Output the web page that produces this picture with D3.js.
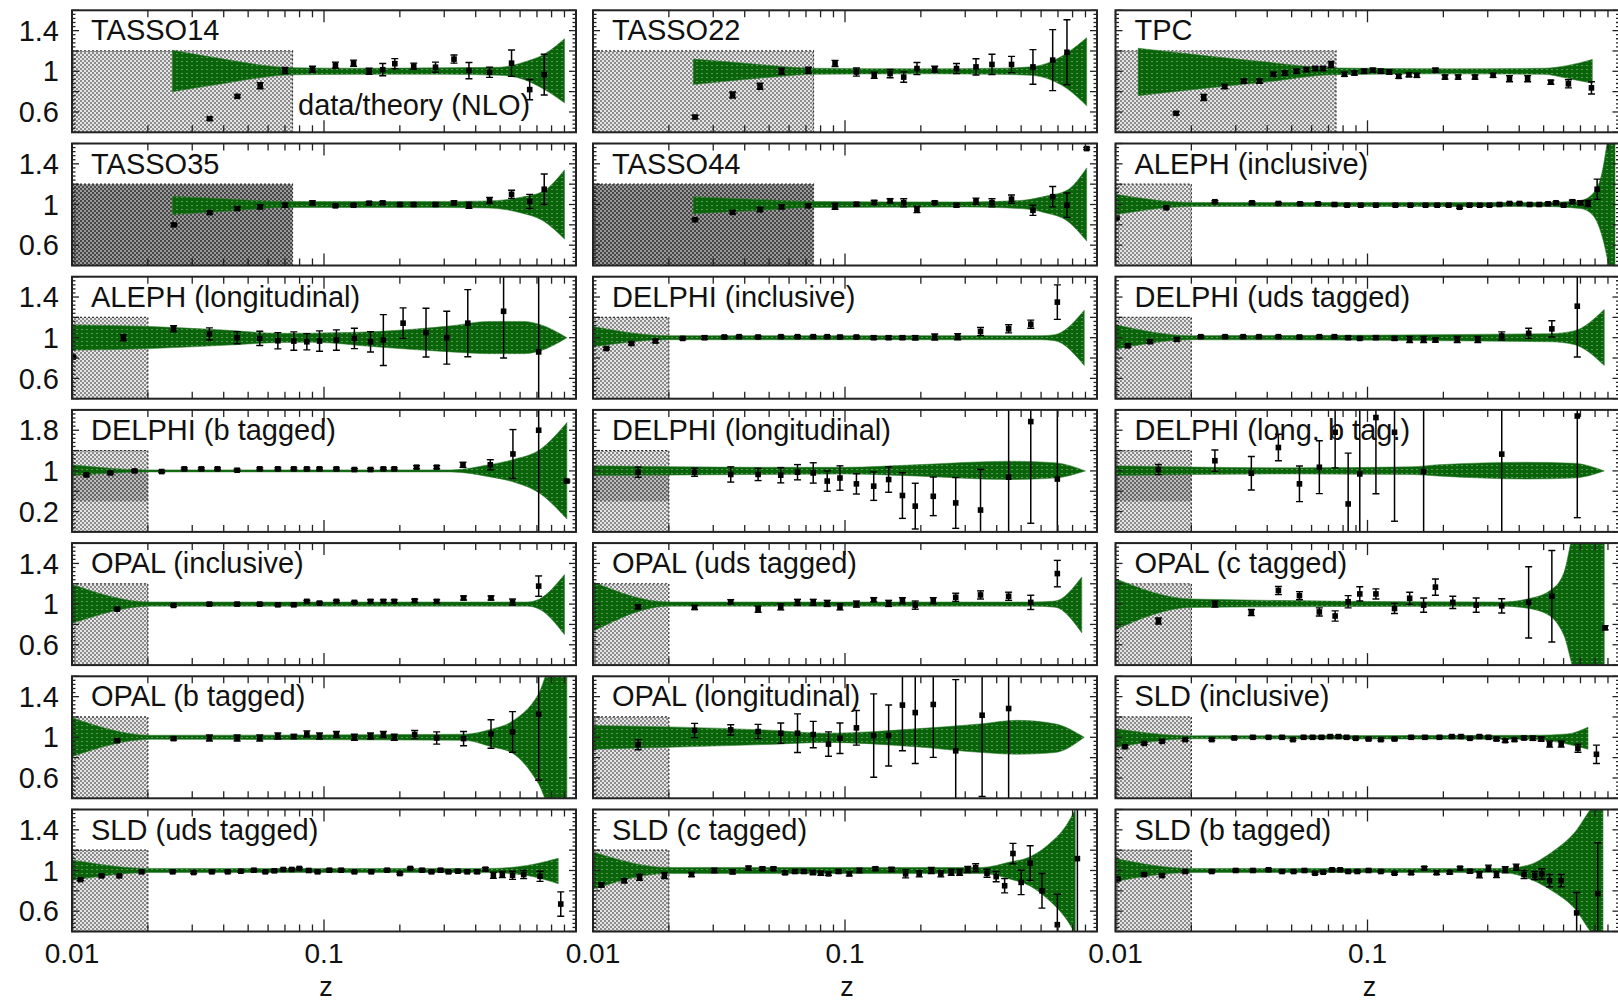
<!DOCTYPE html>
<html>
<head>
<meta charset="utf-8">
<script src="https://cdn.jsdelivr.net/npm/d3@7"></script>
<style>
  body { margin: 0; background: #fff; }
  svg { display: block; }
  text { font-family: "Liberation Sans", Arial, Helvetica, sans-serif; fill: #111; }
</style>
</head>
<body>
<svg id="chart" width="1618" height="1003"></svg>
<script>
// panel titles, row by row (3 per row)
const panelNames = [
  "TASSO14", "TASSO22", "TPC",
  "TASSO35", "TASSO44", "ALEPH (inclusive)",
  "ALEPH (longitudinal)", "DELPHI (inclusive)", "DELPHI (uds tagged)",
  "DELPHI (b tagged)", "DELPHI (longitudinal)", "DELPHI (long. b tag.)",
  "OPAL (inclusive)", "OPAL (uds tagged)", "OPAL (c tagged)",
  "OPAL (b tagged)", "OPAL (longitudinal)", "SLD (inclusive)",
  "SLD (uds tagged)", "SLD (c tagged)", "SLD (b tagged)"
];

// z below which data are excluded from the fit (grey box)
const cutZ = [0.075, 0.075, 0.075, 0.075, 0.075, 0.02, 0.02, 0.02, 0.02, 0.02, 0.02,
  0.02, 0.02, 0.02, 0.02, 0.02, 0.02, 0.02, 0.02, 0.02, 0.02];
const shadeTop = [1.2, 1.2, 1.2, 1.4, 1.2, 1.2, 1.2];   // per row
const yDomainNormal = [0.4, 1.6];
const yDomainWide = [-0.2, 2.2];
const yLabelsNormal = [0.6, 1, 1.4];
const yLabelsWide = [0.2, 1, 1.8];
const xLabels = [0.01, 0.1];

// data points: [z, data/theory, error]
const tasso14Points = [[0.0352,0.534,0.015],[0.0453,0.754,0.015],[0.0558,0.859,0.03],[0.070,1.007,0.03],[0.090,1.02,0.03],[0.111,1.06,0.03],[0.131,1.08,0.03],[0.151,1.0,0.03],[0.171,1.016,0.06],[0.191,1.075,0.05],[0.227,1.05,0.03],[0.277,1.04,0.05],[0.328,1.12,0.04],[0.376,1.007,0.08],[0.454,0.99,0.05],[0.555,1.08,0.13],[0.655,0.82,0.1],[0.748,0.967,0.2]];
const tasso22Points = [[0.0254,0.55,0.015],[0.0358,0.767,0.03],[0.046,0.853,0.03],[0.056,1.0,0.03],[0.0715,1.01,0.03],[0.0913,1.077,0.03],[0.111,0.993,0.04],[0.1306,0.96,0.03],[0.151,0.977,0.04],[0.171,0.943,0.05],[0.193,1.027,0.06],[0.227,1.02,0.03],[0.277,1.027,0.05],[0.331,1.043,0.08],[0.383,1.067,0.1],[0.458,1.067,0.08],[0.557,1.043,0.17],[0.667,1.11,0.3],[0.76,1.187,0.32]];
const tpcPoints = [[0.0174,0.587,0.015],[0.0224,0.743,0.03],[0.0271,0.85,0.02],[0.0323,0.903,0.02],[0.0373,0.903,0.02],[0.0423,0.97,0.02],[0.047,0.983,0.02],[0.0523,1.0,0.02],[0.0572,1.017,0.02],[0.062,1.027,0.02],[0.0666,1.027,0.02],[0.0717,1.067,0.03],[0.081,0.97,0.02],[0.0887,0.983,0.02],[0.097,1.0,0.02],[0.105,1.01,0.02],[0.113,1.0,0.02],[0.122,0.993,0.02],[0.133,0.95,0.02],[0.146,0.967,0.02],[0.157,0.96,0.02],[0.186,1.01,0.02],[0.203,0.943,0.02],[0.229,0.943,0.02],[0.267,0.943,0.02],[0.315,0.96,0.02],[0.366,0.927,0.03],[0.432,0.927,0.03],[0.534,0.893,0.02],[0.627,0.877,0.04],[0.774,0.837,0.06]];
const tasso35Points = [[0.0254,0.80,0.01],[0.0352,0.92,0.015],[0.0453,0.96,0.015],[0.0558,0.977,0.02],[0.070,0.993,0.02],[0.090,1.016,0.02],[0.111,0.987,0.01],[0.131,0.993,0.01],[0.151,1.013,0.015],[0.171,1.016,0.015],[0.20,1.0,0.015],[0.227,1.0,0.015],[0.277,1.0,0.015],[0.328,1.016,0.02],[0.376,0.993,0.03],[0.454,1.04,0.03],[0.555,1.1,0.04],[0.655,1.03,0.07],[0.748,1.15,0.15]];
const tasso44Points = [[0.0254,0.85,0.01],[0.0358,0.923,0.015],[0.046,0.95,0.02],[0.056,0.977,0.02],[0.0715,0.987,0.015],[0.0913,0.983,0.03],[0.111,1.003,0.015],[0.1306,1.02,0.02],[0.151,1.037,0.02],[0.171,1.017,0.04],[0.193,0.95,0.03],[0.227,1.017,0.015],[0.277,0.993,0.015],[0.331,1.033,0.03],[0.383,1.017,0.04],[0.458,1.053,0.04],[0.557,0.943,0.05],[0.667,1.077,0.1],[0.76,0.993,0.12],[0.91,1.55,0.01]];
const alephInclPoints = [[0.0101,0.867,0.01],[0.0159,0.967,0.01],[0.0248,1.027,0.01],[0.0348,1.017,0.01],[0.0443,1.01,0.01],[0.054,1.007,0.01],[0.0636,1.007,0.01],[0.074,1.0,0.01],[0.083,0.993,0.01],[0.094,0.993,0.01],[0.108,0.993,0.01],[0.129,0.993,0.01],[0.148,0.993,0.01],[0.17,0.993,0.01],[0.189,0.993,0.01],[0.21,0.993,0.01],[0.232,0.973,0.01],[0.254,0.993,0.01],[0.279,0.993,0.01],[0.305,0.993,0.01],[0.334,1.0,0.01],[0.366,1.01,0.01],[0.401,1.01,0.01],[0.44,1.0,0.01],[0.48,1.0,0.01],[0.52,1.007,0.01],[0.56,1.017,0.01],[0.6,0.993,0.01],[0.65,1.027,0.015],[0.70,1.017,0.02],[0.75,1.01,0.03],[0.815,1.15,0.1]];
const alephLongPoints = [[0.0101,0.81,0.01],[0.016,1.0,0.03],[0.0253,1.087,0.03],[0.0351,1.037,0.06],[0.0452,1.0,0.06],[0.0556,0.993,0.07],[0.0656,0.97,0.08],[0.0759,0.967,0.09],[0.0855,0.96,0.08],[0.096,0.967,0.1],[0.112,0.977,0.1],[0.132,0.993,0.1],[0.153,0.96,0.1],[0.172,0.977,0.25],[0.206,1.143,0.15],[0.254,1.05,0.24],[0.307,1.0,0.26],[0.372,1.143,0.33],[0.516,1.26,0.46],[0.711,0.86,1.2]];
const delphiInclPoints = [[0.0113,0.893,0.01],[0.0142,0.943,0.015],[0.0177,0.967,0.015],[0.0227,0.993,0.01],[0.0277,1.0,0.015],[0.0332,1.007,0.01],[0.038,1.01,0.01],[0.0452,1.007,0.01],[0.0557,1.01,0.01],[0.0648,1.01,0.01],[0.0748,1.01,0.01],[0.085,1.01,0.01],[0.0955,1.007,0.01],[0.111,1.007,0.01],[0.13,1.0,0.015],[0.149,1.0,0.015],[0.169,1.0,0.015],[0.19,1.0,0.02],[0.227,1.007,0.03],[0.28,1.01,0.03],[0.345,1.06,0.04],[0.446,1.087,0.04],[0.546,1.133,0.04],[0.696,1.35,0.17]];
const delphiUdsPoints = [[0.0112,0.92,0.015],[0.0137,0.96,0.015],[0.0175,0.983,0.015],[0.0218,1.01,0.01],[0.0272,1.01,0.01],[0.0321,1.01,0.01],[0.0371,1.01,0.01],[0.0443,1.01,0.01],[0.0537,1.007,0.01],[0.0644,1.01,0.01],[0.0739,1.01,0.01],[0.0838,1.0,0.015],[0.0932,0.993,0.01],[0.108,1.0,0.015],[0.128,0.993,0.015],[0.147,0.983,0.03],[0.167,0.983,0.03],[0.186,0.977,0.02],[0.227,0.983,0.03],[0.274,0.983,0.03],[0.341,1.017,0.04],[0.436,1.043,0.05],[0.539,1.087,0.08],[0.68,1.31,0.5]];
const delphiBPoints = [[0.0114,0.92,0.02],[0.0142,0.96,0.02],[0.0177,1.0,0.02],[0.0227,0.987,0.02],[0.0279,1.04,0.02],[0.0326,1.04,0.02],[0.0378,1.04,0.02],[0.0452,1.013,0.02],[0.0556,1.04,0.02],[0.0656,1.04,0.02],[0.0759,1.04,0.02],[0.0855,1.04,0.02],[0.096,1.04,0.02],[0.112,1.04,0.02],[0.132,1.027,0.02],[0.153,1.027,0.02],[0.172,1.04,0.02],[0.19,1.04,0.02],[0.233,1.073,0.03],[0.28,1.073,0.03],[0.356,1.12,0.05],[0.457,1.12,0.1],[0.562,1.333,0.48],[0.711,1.8,2.0],[0.92,0.8,0.02]];
const delphiLongPoints = [[0.0151,0.974,0.1],[0.0253,0.974,0.08],[0.0352,0.93,0.15],[0.0452,0.93,0.12],[0.0556,0.915,0.15],[0.0648,0.974,0.15],[0.0748,0.96,0.2],[0.085,0.8,0.2],[0.0955,0.86,0.24],[0.111,0.745,0.2],[0.13,0.7,0.28],[0.149,0.83,0.25],[0.169,0.516,0.45],[0.19,0.307,0.45],[0.224,0.5,0.38],[0.275,0.37,0.5],[0.345,0.23,0.8],[0.446,0.876,2.0],[0.546,1.97,2.0],[0.696,0.84,2.0]];
const delphiLongBPoints = [[0.0148,1.026,0.1],[0.0248,1.2,0.21],[0.0346,0.954,0.33],[0.0443,1.46,0.26],[0.0537,0.745,0.35],[0.0644,1.072,0.52],[0.0744,1.76,0.7],[0.0838,0.35,1.0],[0.0932,0.94,1.5],[0.108,2.05,1.5],[0.128,1.76,1.75],[0.167,0.987,2.0],[0.341,1.33,2.0],[0.68,2.08,2.0]];
const opalInclPoints = [[0.0151,0.95,0.01],[0.0253,0.987,0.01],[0.0351,1.0,0.01],[0.0452,1.0,0.01],[0.0556,1.0,0.01],[0.0656,0.993,0.01],[0.0759,0.993,0.01],[0.0855,1.027,0.01],[0.096,1.01,0.01],[0.112,1.027,0.01],[0.132,1.017,0.01],[0.153,1.027,0.015],[0.172,1.027,0.015],[0.19,1.027,0.015],[0.229,1.033,0.015],[0.28,1.027,0.015],[0.358,1.06,0.02],[0.46,1.06,0.02],[0.56,1.02,0.03],[0.711,1.177,0.1]];
const opalUdsPoints = [[0.0151,0.973,0.02],[0.0253,0.967,0.02],[0.0352,1.023,0.02],[0.0452,0.95,0.03],[0.0556,0.973,0.03],[0.0648,1.017,0.03],[0.0748,1.017,0.03],[0.085,1.007,0.03],[0.0955,0.973,0.03],[0.111,1.0,0.03],[0.13,1.043,0.02],[0.149,1.007,0.03],[0.169,1.033,0.03],[0.19,0.99,0.04],[0.224,1.033,0.03],[0.275,1.067,0.04],[0.345,1.09,0.04],[0.446,1.077,0.04],[0.546,1.017,0.07],[0.696,1.3,0.13]];
const opalCPoints = [[0.0148,0.833,0.03],[0.0248,1.0,0.03],[0.0346,0.917,0.03],[0.0443,1.133,0.04],[0.0537,1.083,0.04],[0.0644,0.923,0.04],[0.0744,0.883,0.05],[0.0838,1.023,0.06],[0.0932,1.1,0.07],[0.108,1.1,0.05],[0.128,0.957,0.05],[0.147,1.057,0.06],[0.167,0.99,0.07],[0.186,1.167,0.08],[0.218,1.017,0.06],[0.27,0.99,0.07],[0.341,0.983,0.07],[0.436,1.017,0.35],[0.539,1.077,0.45],[0.877,0.767,0.02]];
const opalBPoints = [[0.0151,0.967,0.01],[0.0253,0.987,0.015],[0.0351,0.993,0.03],[0.0452,0.993,0.03],[0.0556,0.993,0.03],[0.0656,1.013,0.03],[0.0759,1.007,0.02],[0.0855,1.033,0.03],[0.096,1.013,0.03],[0.112,1.027,0.03],[0.132,1.0,0.03],[0.153,1.013,0.03],[0.172,1.027,0.03],[0.19,1.0,0.03],[0.229,1.027,0.04],[0.28,0.993,0.06],[0.358,0.987,0.07],[0.46,1.033,0.14],[0.56,1.053,0.2],[0.711,1.227,0.65]];
const opalLongPoints = [[0.0151,0.927,0.05],[0.0253,1.067,0.07],[0.0352,1.073,0.05],[0.0452,1.057,0.07],[0.0556,1.04,0.1],[0.0648,1.04,0.19],[0.0748,1.027,0.13],[0.086,0.933,0.12],[0.0955,0.99,0.15],[0.111,1.093,0.17],[0.13,1.017,0.41],[0.149,1.017,0.3],[0.169,1.317,0.45],[0.19,1.243,0.5],[0.224,1.323,0.52],[0.275,0.867,0.7],[0.35,1.217,0.8],[0.446,1.283,0.9]];
const sldInclPoints = [[0.0109,0.907,0.01],[0.013,0.94,0.01],[0.0153,0.96,0.01],[0.0189,0.977,0.01],[0.0241,0.977,0.01],[0.0296,0.993,0.01],[0.0351,1.0,0.01],[0.0405,1.0,0.01],[0.0458,1.0,0.01],[0.0506,0.977,0.01],[0.0558,1.0,0.01],[0.0606,1.0,0.01],[0.0657,1.0,0.01],[0.0711,1.007,0.01],[0.0767,1.007,0.01],[0.0826,1.0,0.01],[0.0898,0.99,0.01],[0.101,0.983,0.01],[0.113,0.977,0.01],[0.128,0.983,0.01],[0.149,1.0,0.01],[0.169,1.0,0.01],[0.193,1.0,0.01],[0.216,1.007,0.01],[0.235,1.007,0.01],[0.255,0.99,0.01],[0.278,1.007,0.01],[0.302,1.0,0.01],[0.325,0.983,0.015],[0.352,0.967,0.015],[0.383,0.977,0.015],[0.418,0.993,0.015],[0.453,0.99,0.02],[0.489,0.983,0.02],[0.528,0.933,0.03],[0.587,0.933,0.03],[0.684,0.893,0.04],[0.81,0.833,0.09]];
const sldUdsPoints = [[0.0108,0.91,0.01],[0.0131,0.947,0.01],[0.0154,0.947,0.01],[0.0189,0.987,0.01],[0.0251,0.987,0.01],[0.0304,0.98,0.01],[0.0359,0.987,0.01],[0.0415,0.987,0.01],[0.0468,0.993,0.01],[0.0527,1.003,0.01],[0.0585,0.987,0.01],[0.0635,0.997,0.01],[0.0689,1.01,0.01],[0.0745,1.01,0.01],[0.0798,1.02,0.01],[0.087,1.0,0.01],[0.0943,0.987,0.01],[0.105,1.003,0.01],[0.117,1.003,0.01],[0.132,0.987,0.01],[0.154,0.987,0.01],[0.178,1.003,0.01],[0.2,0.97,0.01],[0.22,1.02,0.01],[0.245,1.003,0.01],[0.267,0.987,0.01],[0.29,1.003,0.01],[0.312,0.987,0.01],[0.34,0.993,0.01],[0.37,0.987,0.01],[0.405,0.987,0.015],[0.437,1.013,0.015],[0.47,0.953,0.03],[0.51,0.96,0.03],[0.56,0.953,0.04],[0.62,0.96,0.04],[0.72,0.943,0.05],[0.87,0.67,0.12]];
const sldCPoints = [[0.0108,0.857,0.02],[0.0133,0.9,0.02],[0.0153,0.933,0.03],[0.0192,0.95,0.03],[0.0246,0.96,0.02],[0.0303,1.0,0.02],[0.0358,0.987,0.02],[0.0414,1.023,0.02],[0.047,1.017,0.015],[0.052,1.017,0.015],[0.0578,0.977,0.015],[0.0633,0.99,0.015],[0.0687,0.99,0.015],[0.0746,0.98,0.02],[0.0802,0.973,0.02],[0.086,0.967,0.015],[0.0943,0.99,0.015],[0.104,0.967,0.02],[0.114,1.0,0.02],[0.132,1.017,0.015],[0.153,1.01,0.02],[0.174,0.967,0.04],[0.197,0.967,0.03],[0.22,1.0,0.03],[0.24,0.967,0.03],[0.264,0.983,0.03],[0.285,0.983,0.03],[0.307,1.01,0.03],[0.33,1.027,0.04],[0.366,0.973,0.04],[0.398,0.94,0.05],[0.43,0.85,0.07],[0.464,1.167,0.1],[0.5,0.883,0.12],[0.543,1.073,0.17],[0.605,0.8,0.17],[0.696,0.467,0.3],[0.836,1.117,0.8]];
const sldBPoints = [[0.0102,0.917,0.01],[0.013,0.96,0.01],[0.0153,0.95,0.01],[0.0189,0.99,0.01],[0.0241,0.99,0.01],[0.03,1.0,0.01],[0.0351,1.0,0.01],[0.0405,1.007,0.01],[0.0458,0.99,0.01],[0.0509,0.99,0.01],[0.0562,1.0,0.01],[0.0619,0.973,0.01],[0.0667,0.983,0.01],[0.0723,1.007,0.01],[0.0779,1.007,0.01],[0.0838,0.99,0.01],[0.0911,0.99,0.01],[0.101,1.0,0.01],[0.113,0.99,0.01],[0.128,0.973,0.01],[0.149,0.977,0.015],[0.168,1.023,0.015],[0.188,0.977,0.015],[0.212,0.983,0.015],[0.233,1.023,0.015],[0.255,0.993,0.015],[0.278,0.957,0.03],[0.302,1.023,0.03],[0.325,0.96,0.03],[0.352,1.007,0.03],[0.389,1.033,0.03],[0.418,0.96,0.04],[0.461,0.95,0.04],[0.492,0.967,0.05],[0.528,0.9,0.06],[0.587,0.9,0.06],[0.676,0.583,0.2],[0.82,0.773,0.5]];

// theory uncertainty bands: [z, lower, upper]
const tasso14Band = [[0.025,0.80,1.207],[0.04,0.88,1.12],[0.055,0.935,1.065],[0.075,0.965,1.035],[0.15,0.97,1.03],[0.3,0.97,1.035],[0.5,0.96,1.04],[0.62,0.92,1.09],[0.75,0.82,1.17],[0.9,0.69,1.32]];
const tasso22Band = [[0.025,0.87,1.12],[0.04,0.92,1.08],[0.055,0.95,1.05],[0.075,0.97,1.03],[0.2,0.975,1.025],[0.4,0.97,1.03],[0.55,0.96,1.045],[0.65,0.92,1.09],[0.76,0.83,1.18],[0.91,0.66,1.33]];
const tpcBand = [[0.0123,0.76,1.227],[0.0215,0.827,1.16],[0.039,0.893,1.093],[0.074,0.967,1.033],[0.2,0.975,1.025],[0.5,0.97,1.03],[0.63,0.927,1.06],[0.78,0.883,1.117]];
const tasso35Band = [[0.025,0.90,1.08],[0.045,0.94,1.05],[0.07,0.97,1.03],[0.3,0.97,1.03],[0.45,0.965,1.035],[0.6,0.92,1.07],[0.74,0.84,1.13],[0.9,0.66,1.34]];
const tasso44Band = [[0.025,0.91,1.077],[0.045,0.94,1.05],[0.075,0.97,1.03],[0.3,0.975,1.025],[0.5,0.96,1.04],[0.62,0.92,1.08],[0.76,0.84,1.14],[0.91,0.64,1.36]];
const alephInclBand = [[0.01,0.9,1.1],[0.0202,0.98,1.02],[0.5,0.98,1.02],[0.7,0.96,1.04],[0.78,0.9,1.1],[0.85,0.7,1.3],[0.92,0.3,1.8],[0.96,0.0,2.0]];
const alephLongBand = [[0.01,0.877,1.127],[0.0205,0.893,1.11],[0.04,0.925,1.075],[0.068,0.953,1.043],[0.09,0.955,1.045],[0.16,0.91,1.06],[0.32,0.86,1.117],[0.45,0.843,1.16],[0.62,0.843,1.16],[0.72,0.87,1.13],[0.92,1.0,1.0]];
const delphiInclBand = [[0.01,0.91,1.11],[0.02,0.98,1.02],[0.6,0.98,1.02],[0.68,0.97,1.03],[0.89,0.727,1.27]];
const delphiUdsBand = [[0.01,0.887,1.127],[0.02,0.98,1.02],[0.53,0.96,1.04],[0.66,0.933,1.067],[0.87,0.727,1.277]];
const delphiBBand = [[0.01,0.907,1.12],[0.02,0.98,1.02],[0.32,0.98,1.02],[0.45,0.887,1.12],[0.56,0.787,1.22],[0.72,0.553,1.42],[0.92,0.053,1.95]];
const delphiLongBand = [[0.01,0.91,1.1],[0.05,0.93,1.07],[0.1,0.94,1.07],[0.19,0.9,1.12],[0.45,0.83,1.19],[0.68,0.86,1.16],[0.9,1.0,1.0]];
const delphiLongBBand = [[0.01,0.91,1.1],[0.05,0.94,1.06],[0.15,0.93,1.08],[0.19,0.9,1.12],[0.43,0.84,1.17],[0.66,0.86,1.15],[0.87,1.0,1.0]];
const opalInclBand = [[0.01,0.81,1.193],[0.0205,0.98,1.02],[0.64,0.98,1.02],[0.716,0.95,1.05],[0.9,0.70,1.29]];
const opalUdsBand = [[0.01,0.733,1.217],[0.02,0.98,1.02],[0.55,0.98,1.02],[0.68,0.97,1.03],[0.87,0.717,1.267]];
const opalCBand = [[0.01,0.75,1.25],[0.02,0.967,1.05],[0.34,0.98,1.02],[0.43,0.96,1.05],[0.53,0.883,1.133],[0.6,0.7,1.3],[0.68,0.3,1.8],[0.87,0.3,1.8]];
const opalBBand = [[0.01,0.81,1.193],[0.0205,0.98,1.02],[0.36,0.97,1.03],[0.457,0.91,1.077],[0.56,0.843,1.16],[0.71,0.543,1.427],[0.8,0.3,1.7],[0.92,0.3,1.7]];
const opalLongBand = [[0.01,0.883,1.117],[0.05,0.93,1.07],[0.085,0.95,1.04],[0.19,0.907,1.083],[0.35,0.85,1.133],[0.48,0.833,1.167],[0.68,0.85,1.133],[0.89,1.0,1.0]];
const sldInclBand = [[0.01,0.9,1.083],[0.02,0.985,1.015],[0.46,0.98,1.02],[0.62,0.933,1.033],[0.75,0.883,1.1]];
const sldUdsBand = [[0.01,0.903,1.103],[0.0205,0.98,1.02],[0.45,0.98,1.02],[0.64,0.95,1.05],[0.85,0.87,1.12]];
const sldCBand = [[0.01,0.817,1.183],[0.02,0.97,1.03],[0.35,0.97,1.03],[0.45,0.917,1.083],[0.54,0.85,1.133],[0.65,0.7,1.267],[0.75,0.533,1.433],[0.82,0.38,1.6]];
const sldBBand = [[0.01,0.893,1.117],[0.02,0.98,1.02],[0.34,0.98,1.02],[0.43,0.927,1.05],[0.54,0.8,1.183],[0.66,0.633,1.367],[0.8,0.35,1.65],[0.86,0.3,1.7]];

const pointSets = [tasso14Points, tasso22Points, tpcPoints, tasso35Points, tasso44Points, alephInclPoints,
  alephLongPoints, delphiInclPoints, delphiUdsPoints, delphiBPoints, delphiLongPoints, delphiLongBPoints,
  opalInclPoints, opalUdsPoints, opalCPoints, opalBPoints, opalLongPoints, sldInclPoints,
  sldUdsPoints, sldCPoints, sldBPoints];
const bandSets = [tasso14Band, tasso22Band, tpcBand, tasso35Band, tasso44Band, alephInclBand,
  alephLongBand, delphiInclBand, delphiUdsBand, delphiBBand, delphiLongBand, delphiLongBBand,
  opalInclBand, opalUdsBand, opalCBand, opalBBand, opalLongBand, sldInclBand,
  sldUdsBand, sldCBand, sldBBand];
const darkShade = new Set(["TASSO35", "TASSO44"]);

// layout
const colLeft = [72, 593, 1115.5];
const panelW = 504, panelH = 122;
const rowTop0 = 10.3, rowStep = 133.2;
const wideRow = 3;

const svg = d3.select("#chart");
const defs = svg.append("defs");

// checkered grey for excluded region
function checker(id, light, dark, s) {
  const p = defs.append("pattern").attr("id", id)
    .attr("patternUnits", "userSpaceOnUse").attr("width", 2 * s).attr("height", 2 * s);
  p.append("rect").attr("width", 2 * s).attr("height", 2 * s).attr("fill", light);
  p.append("rect").attr("width", s).attr("height", s).attr("fill", dark);
  p.append("rect").attr("x", s).attr("y", s).attr("width", s).attr("height", s).attr("fill", dark);
}
checker("shadeLight", "#e6e6e6", "#8c8c8c", 2);
checker("shadeDark", "#9a9a9a", "#474747", 2);

// dotted green fill for the band
const bp = defs.append("pattern").attr("id", "bandFill")
  .attr("patternUnits", "userSpaceOnUse").attr("width", 5).attr("height", 4);
bp.append("rect").attr("width", 5).attr("height", 4).attr("fill", "#0a640a");
bp.append("rect").attr("x", 1).attr("y", 1).attr("width", 2).attr("height", 1).attr("fill", "#5c975c");

panelNames.forEach((name, i) => {
  const row = Math.floor(i / 3), col = i % 3;
  const left = colLeft[col], top = rowTop0 + row * rowStep;
  const wide = row === wideRow;

  const x = d3.scaleLog().domain([0.01, 1]).range([left, left + panelW]);
  const y = d3.scaleLinear().domain(wide ? yDomainWide : yDomainNormal).range([top + panelH, top]);

  defs.append("clipPath").attr("id", "clip" + i)
    .append("rect").attr("x", left).attr("y", top).attr("width", panelW).attr("height", panelH);

  const g = svg.append("g");
  const inner = g.append("g").attr("clip-path", `url(#clip${i})`);

  // excluded-region box
  const bx = x(0.01), bw = x(cutZ[i]) - x(0.01);
  inner.append("rect")
    .attr("x", bx).attr("y", y(shadeTop[row])).attr("width", bw)
    .attr("height", top + panelH - y(shadeTop[row]))
    .attr("fill", darkShade.has(name) ? "url(#shadeDark)" : "url(#shadeLight)");
  if (wide) {
    inner.append("rect")
      .attr("x", bx).attr("y", y(1.0)).attr("width", bw).attr("height", y(0.4) - y(1.0))
      .attr("fill", "url(#shadeDark)").attr("opacity", 0.55);
  }
  inner.append("path")
    .attr("d", `M${bx},${y(shadeTop[row])}H${bx + bw}V${top + panelH}`)
    .attr("fill", "none").attr("stroke", "#333").attr("stroke-width", 1.2)
    .attr("stroke-dasharray", "2,2");

  // theory band
  const area = d3.area()
    .x(d => x(d[0]))
    .y0(d => y(d[1]))
    .y1(d => y(d[2]))
    .curve(d3.curveMonotoneX);
  inner.append("path")
    .datum(bandSets[i])
    .attr("d", area)
    .attr("fill", "url(#bandFill)")
    .attr("stroke", "#2f7a2f").attr("stroke-width", 0.8).attr("stroke-opacity", 0.7);

  // data points with error bars
  const pts = inner.selectAll(".pt").data(pointSets[i]).enter().append("g").attr("class", "pt");
  pts.append("line")
    .attr("x1", d => x(d[0])).attr("x2", d => x(d[0]))
    .attr("y1", d => y(d[1] - d[2])).attr("y2", d => y(d[1] + d[2]))
    .attr("stroke", "#000").attr("stroke-width", 1.5);
  pts.append("line")
    .attr("x1", d => x(d[0]) - 3.5).attr("x2", d => x(d[0]) + 3.5)
    .attr("y1", d => y(d[1] + d[2])).attr("y2", d => y(d[1] + d[2]))
    .attr("stroke", "#000").attr("stroke-width", 1.4);
  pts.append("line")
    .attr("x1", d => x(d[0]) - 3.5).attr("x2", d => x(d[0]) + 3.5)
    .attr("y1", d => y(d[1] - d[2])).attr("y2", d => y(d[1] - d[2]))
    .attr("stroke", "#000").attr("stroke-width", 1.4);
  pts.append("rect")
    .attr("x", d => x(d[0]) - 2.8).attr("y", d => y(d[1]) - 2.8)
    .attr("width", 5.6).attr("height", 5.6).attr("fill", "#000");

  // ticks on all four sides, pointing inward
  const ticks = g.append("g").attr("stroke", "#222").attr("stroke-width", 1.3);
  x.ticks().forEach(t => {
    const major = Math.abs(Math.log10(t) - Math.round(Math.log10(t))) < 1e-6;
    const len = major ? 12 : 7;
    const px = x(t);
    ticks.append("line").attr("x1", px).attr("x2", px).attr("y1", top + panelH).attr("y2", top + panelH - len);
    ticks.append("line").attr("x1", px).attr("x2", px).attr("y1", top).attr("y2", top + len);
  });
  const dom = y.domain();
  const minorStep = wide ? 0.08 : 0.04;
  const majorEvery = 5;
  d3.range(0, Math.round((dom[1] - dom[0]) / minorStep) + 1).forEach(k => {
    const v = dom[0] + k * minorStep;
    const len = (k % majorEvery === 0) ? 7 : 3.5;
    const py = y(v);
    ticks.append("line").attr("x1", left).attr("x2", left + len).attr("y1", py).attr("y2", py);
    ticks.append("line").attr("x1", left + panelW).attr("x2", left + panelW - len).attr("y1", py).attr("y2", py);
  });

  // frame
  g.append("rect").attr("x", left).attr("y", top).attr("width", panelW).attr("height", panelH)
    .attr("fill", "none").attr("stroke", "#222").attr("stroke-width", 2);

  // title
  g.append("text").attr("x", left + 19).attr("y", top + 30)
    .attr("font-size", 29).text(name);

  if (i === 0) {
    g.append("text").attr("x", left + 226).attr("y", top + 105)
      .attr("font-size", 29).text("data/theory (NLO)");
  }

  // y tick labels on the left column
  if (col === 0) {
    (wide ? yLabelsWide : yLabelsNormal).forEach(v => {
      g.append("text").attr("x", 59).attr("y", y(v)).attr("dy", "0.35em")
        .attr("text-anchor", "end").attr("font-size", 29).text(d3.format("~g")(v));
    });
  }

  // x tick labels and axis title on the bottom row
  if (row === 6) {
    xLabels.forEach(v => {
      g.append("text").attr("x", x(v)).attr("y", 963)
        .attr("text-anchor", "middle").attr("font-size", 28).text(String(v));
    });
    g.append("text").attr("x", left + panelW / 2 + 2).attr("y", 996)
      .attr("text-anchor", "middle").attr("font-size", 27).text("z");
  }
});
</script>
</body>
</html>
